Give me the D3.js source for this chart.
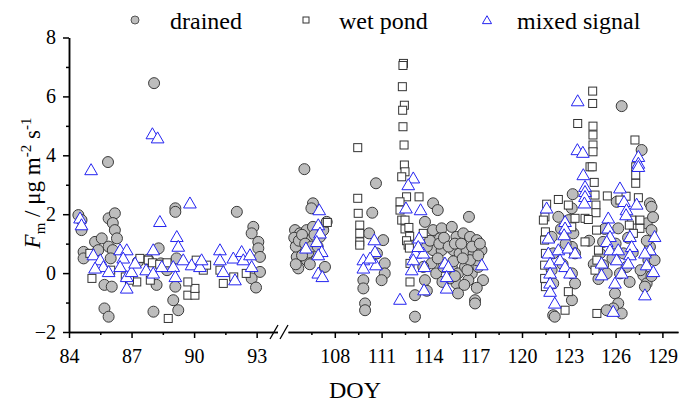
<!DOCTYPE html>
<html>
<head>
<meta charset="utf-8">
<script src="https://cdn.jsdelivr.net/npm/d3@7"></script>
<style>
  body { margin: 0; background: #fff; }
  svg { display: block; font-family: "Liberation Serif", "Times New Roman", serif; }
</style>
</head>
<body>
<div id="chart"></div>
<script>
// tick values (two x segments with a broken axis)
const xTicksA = [84, 87, 90, 93];
const xMinorA = [85.5, 88.5, 91.5];
const xTicksB = [108, 111, 114, 117, 120, 123, 126, 129];
const xMinorB = [106.5, 109.5, 112.5, 115.5, 118.5, 121.5, 124.5, 127.5];
const yTicks = [-2, 0, 2, 4, 6, 8];
const yMinor = [-1, 1, 3, 5, 7];

// [DOY, Fm]
const drained = [
  [84.45, 1.97], [84.6, 1.8], [84.6, 1.46], [84.7, 0.72], [84.7, 0.5], [85.25, 1.06], [85.57, 1.18],
  [85.9, 1.86], [86.2, 2.03], [86.1, 1.7], [86.2, 1.46], [86.3, 1.18], [85.9, 0.9], [86.1, 0.78],
  [85.7, -0.4], [86.05, -0.46], [85.7, -1.2], [85.9, -1.48], [85.87, 3.77], [88.08, 6.45],
  [89.1, 2.2], [89.1, 2.08], [88.3, 0.84], [88.2, -0.4], [88.05, -1.31], [89.1, -0.46], [89.0, -0.92],
  [89.24, -1.26], [87.8, 0.46], [89.16, 0.5], [92.05, 2.08], [92.84, 1.57], [92.76, 1.35], [93.08, 1.06],
  [93.08, 0.84], [93.16, 0.55], [93.16, 0.04], [92.76, -0.18], [92.97, -0.49], [85.4, 0.78], [86.0, 0.5],
  [87.3, 0.38], [88.4, 0.33], [88.7, 0.1],
  [106.05, 3.53], [106.6, 2.37], [106.5, 2.2], [105.45, 1.46], [105.77, 1.35], [106.2, 1.46], [106.6, 1.57],
  [105.56, 1.01], [105.98, 0.89], [106.4, 1.12], [107.05, 1.23], [107.26, 1.46], [105.66, 0.16], [105.56, 0.55],
  [106.2, 0.44], [107.37, 0.21], [106.84, 0.67], [107.48, 1.74], [105.4, 1.2], [105.5, 0.9], [105.7, 1.1],
  [105.9, 1.3], [106.1, 1.0], [106.3, 0.7], [106.5, 0.9], [106.7, 1.3], [106.9, 0.9], [105.9, 0.6],
  [106.4, 0.3], [105.5, 0.3],
  [110.64, 3.05], [110.4, 2.05], [110.2, 1.35], [111.1, 1.12], [109.83, -0.24], [109.83, -0.52], [109.94, -1.03],
  [109.94, -1.26], [111.2, 0.33], [111.2, -0.01], [111.0, -0.24], [110.7, 0.67],
  [113.14, -1.48], [113.14, -0.75], [113.78, -0.24], [114.3, 2.37], [114.6, 2.14], [113.78, 1.74], [114.3, 1.46],
  [114.85, 1.52], [114.74, 1.18], [114.3, 0.78], [114.85, 0.78], [114.2, 0.33], [114.5, -0.01], [114.96, 0.21],
  [113.67, 0.21], [115.5, 1.57], [116.6, 1.91], [115.8, 1.23], [116.24, 1.35], [116.67, 1.23], [117.1, 1.12],
  [115.6, 0.78], [116.0, 0.67], [116.45, 0.78], [116.9, 0.67], [117.4, 0.78], [115.5, 0.21], [115.9, -0.01],
  [116.35, 0.21], [116.78, -0.01], [117.2, 0.21], [117.5, -0.24], [115.8, -0.35], [115.9, -0.69], [116.99, -0.92],
  [116.99, -1.03], [116.56, -0.24], [115.38, -0.18], [117.1, 0.44], [116.67, 0.44], [113.9, 0.9], [114.1, 1.1],
  [114.6, 0.5], [114.7, 1.0], [115.0, 1.2], [115.3, 0.9], [115.6, 0.4], [115.7, 1.0], [116.1, 1.0], [116.2, 0.5],
  [116.5, 0.1], [116.8, 0.9], [117.2, 0.6], [117.3, 1.0], [116.3, -0.4], [117.1, -0.5], [115.7, -0.1],
  [114.9, -0.3], [113.9, -0.6],
  [126.39, 5.67], [127.67, 4.18], [123.25, 2.68], [123.19, 2.2], [126.07, 2.42], [128.2, 2.37], [128.3, 2.25],
  [122.33, 1.91], [123.29, 1.35], [123.2, 0.89], [123.4, 0.67], [123.2, -0.01], [123.4, -0.35], [123.2, -0.92],
  [122.0, -1.43], [122.1, -1.48], [121.9, 1.23], [122.0, 0.67], [121.9, 0.1], [122.0, -0.35], [126.17, 1.52],
  [125.2, 1.06], [125.0, 0.67], [125.2, 0.27], [125.43, -0.01], [125.96, -0.69], [126.17, -1.03], [125.85, -1.2],
  [125.43, -1.26], [126.39, -1.37], [127.99, 1.69], [128.3, 1.46], [128.2, 0.89], [128.1, 0.44], [128.5, 0.44],
  [127.78, -0.07], [127.99, -0.35], [127.88, -0.46], [126.5, 0.67], [126.7, 0.21], [126.28, -0.01],
  [122.5, 1.5], [122.8, 1.0], [122.6, 0.3], [123.0, 1.8], [124.3, 1.1], [125.3, 1.5], [125.8, 0.5], [126.0, 1.0],
  [126.8, 1.2], [127.1, 0.7], [128.4, 1.9], [128.0, 1.1], [128.3, -0.1], [127.6, 0.1], [126.9, -0.3],
  [124.6, 0.3], [124.9, -0.2]
];

const wetPond = [
  [85.0, 0.67], [85.1, -0.18], [87.4, 0.5], [87.8, 0.44], [88.0, 0.35], [88.35, 0.3], [88.7, 0.35],
  [87.25, -0.3], [87.9, -0.24], [88.76, -1.54], [89.7, -0.75], [90.04, -0.75], [90.04, -0.52], [89.7, -0.3],
  [90.44, 0.1], [90.6, 0.27], [90.1, 0.44], [91.4, -0.35], [86.0, 0.1], [86.7, -0.13], [86.9, -0.24],
  [91.24, 0.1], [91.9, -0.13], [92.5, -0.01],
  [109.47, 4.26], [109.47, 2.54], [109.5, 2.03], [109.6, 1.63], [109.6, 1.35], [109.6, 1.06], [109.6, 0.95],
  [107.52, 1.72], [112.4, 7.12], [112.37, 7.05], [112.33, 6.33], [112.46, 5.7], [112.35, 5.53], [112.37, 4.97],
  [112.44, 4.35], [112.46, 3.67], [112.5, 3.44], [112.29, 3.27], [112.6, 2.59], [113.4, 2.59], [112.18, 2.42],
  [112.18, 2.14], [112.29, 1.8], [112.5, 1.8], [112.5, 1.5], [112.75, 1.55], [112.8, 1.25], [112.6, 1.1],
  [112.7, 0.95], [112.78, 0.85], [113.67, 1.35], [112.82, -0.3], [112.82, 0.33],
  [124.53, 6.18], [124.53, 5.76], [123.57, 5.08], [124.55, 4.99], [124.55, 4.69], [124.55, 4.35], [124.55, 4.12],
  [124.36, 3.61], [124.5, 3.61], [124.63, 3.08], [124.68, 2.65], [124.74, 2.31], [124.74, 2.05], [124.04, 1.86],
  [124.25, 1.82], [124.04, 1.06], [127.24, 4.52], [127.29, 3.61], [127.29, 3.33], [127.29, 3.05], [125.47, 2.62],
  [126.67, 2.61], [127.46, 2.56], [122.33, 2.5], [121.58, 2.34], [121.47, 1.91], [121.37, 1.8], [122.97, 2.31],
  [123.4, 1.86], [123.19, 1.57], [121.5, 1.4], [121.45, 1.12], [121.5, 0.67], [121.45, 0.27], [121.45, -0.18],
  [121.5, -0.46], [124.78, 1.46], [124.9, 0.78], [124.8, 0.44], [124.68, 0.1], [124.8, -1.37], [122.76, -1.26],
  [122.97, -0.63], [127.56, 1.8], [127.56, 1.52], [127.03, 1.8], [126.88, 1.63], [126.28, 2.48], [127.14, 1.35]
];

const mixed = [
  [85.06, 3.5], [84.53, 1.86], [84.6, 1.63], [85.17, 0.61], [85.5, 0.44], [85.65, 0.21], [85.25, 0.16],
  [85.9, 0.04], [86.45, 0.78], [86.77, 0.78], [86.6, 0.5], [86.45, 0.21], [86.77, -0.13], [86.77, -0.52],
  [87.0, 0.04], [87.17, 0.33], [88.04, 0.78], [88.36, 1.74], [89.17, 1.23], [89.24, 0.9], [89.8, 2.37],
  [87.7, 0.1], [88.04, -0.01], [88.45, 0.21], [89.0, 0.21], [89.1, -0.13], [89.48, 0.44], [89.88, 0.27],
  [90.28, 0.21], [90.36, 0.44], [91.24, 0.78], [91.24, 0.44], [91.4, 0.04], [91.88, 0.5], [91.96, -0.24],
  [92.28, 0.72], [92.36, 0.44], [92.68, 0.61], [92.76, 0.21], [88.0, 4.72], [88.25, 4.58],
  [107.0, 2.14], [106.94, 1.63], [107.05, 1.35], [106.84, 1.06], [107.16, 0.72], [106.94, 0.61], [106.15, 0.84],
  [106.94, -0.01], [107.2, -0.13], [110.53, 1.12], [110.58, 0.72], [110.64, 0.27], [109.83, 0.44], [109.83, 0.16],
  [110.26, 0.5], [112.18, -0.9], [113.03, 3.22], [112.71, 2.99], [112.56, 2.2], [113.5, 2.14], [113.4, 1.18],
  [113.18, 0.67], [113.67, 0.67], [113.03, 0.44], [113.74, 0.21], [112.93, 0.1], [113.35, 0.89], [113.72, -0.58],
  [115.06, 0.33], [115.28, 0.21], [115.17, -0.13], [115.17, -0.52], [117.42, 0.27],
  [123.57, 5.84], [123.55, 4.18], [123.9, 4.09], [123.93, 3.33], [124.04, 2.93], [124.04, 2.76], [124.04, 2.59],
  [124.0, 2.37], [127.46, 3.95], [127.46, 3.72], [127.46, 3.61], [126.28, 2.88], [126.54, 2.42], [126.7, 2.14],
  [126.67, 1.97], [127.35, 2.33], [121.58, 2.2], [122.76, 1.74], [122.76, 1.52], [122.7, 1.29], [121.69, 1.18],
  [121.69, 0.67], [122.33, 0.78], [122.97, 0.84], [123.4, 0.67], [121.8, 0.33], [122.44, 0.44], [122.76, 0.21],
  [123.08, -0.01], [121.8, -0.01], [121.8, -0.35], [121.8, -0.63], [122.1, -1.03], [125.53, 1.86], [125.53, 1.52],
  [125.64, 1.23], [125.43, 1.06], [125.64, 0.78], [125.1, 0.33], [125.1, -0.07], [126.17, 0.78], [126.07, 0.44],
  [126.39, -0.01], [125.96, -0.35], [125.85, -1.31], [126.92, 1.23], [127.03, 0.89], [126.92, 0.61], [126.8, 0.33],
  [128.5, 1.23], [128.2, 0.78], [127.88, 0.67], [127.99, 0.27], [128.42, 0.04], [127.88, -0.75]
];

const W = 681, H = 403;
const svg = d3.select("#chart").append("svg").attr("width", W).attr("height", H);

const xA = d3.scaleLinear().domain([84, 94]).range([69, 277.5]);
const xB = d3.scaleLinear().domain([105, 130]).range([288, 678]);
const y = d3.scaleLinear().domain([-2, 8]).range([332, 37.5]);
const xPos = d => d < 100 ? xA(d) : xB(d);
const axisY = y(-2);

// axes
function styleAxis(g) {
  g.selectAll("path.domain").attr("stroke", "#000").attr("stroke-width", 1.5);
  g.selectAll(".tick line").attr("stroke", "#000").attr("stroke-width", 1.5);
  g.selectAll(".tick text").attr("font-family", "Liberation Serif, serif").attr("font-size", 20).attr("fill", "#000");
}

[[xA, xTicksA, xMinorA], [xB, xTicksB, xMinorB]].forEach(([sc, maj, min]) => {
  svg.append("g").attr("transform", `translate(0,${axisY})`)
    .call(d3.axisBottom(sc).tickValues(maj).tickSize(6).tickSizeOuter(0).tickPadding(11))
    .call(styleAxis);
  svg.append("g").attr("transform", `translate(0,${axisY})`)
    .call(d3.axisBottom(sc).tickValues(min).tickSize(3).tickSizeOuter(0).tickFormat(""))
    .call(styleAxis);
});

svg.append("g").attr("transform", "translate(69,0)")
  .call(d3.axisLeft(y).tickValues(yTicks).tickSize(6).tickSizeOuter(0).tickPadding(7))
  .call(styleAxis);
svg.append("g").attr("transform", "translate(69,0)")
  .call(d3.axisLeft(y).tickValues(yMinor).tickSize(3).tickSizeOuter(0).tickFormat(""))
  .call(styleAxis);

// break marks
[274, 284].forEach(bx => {
  svg.append("line")
    .attr("x1", bx - 4).attr("y1", axisY + 7)
    .attr("x2", bx + 4).attr("y2", axisY - 7)
    .attr("stroke", "#000").attr("stroke-width", 1.3);
});

// markers
const tri = d3.symbol().type(d3.symbolTriangle).size(70);

svg.append("g").selectAll("circle").data(drained).join("circle")
  .attr("cx", d => xPos(d[0])).attr("cy", d => y(d[1])).attr("r", 5.5)
  .attr("fill", "#bdbdbd").attr("stroke", "#3a3a3a").attr("stroke-width", 1);

svg.append("g").selectAll("rect").data(wetPond).join("rect")
  .attr("x", d => xPos(d[0]) - 4).attr("y", d => y(d[1]) - 4)
  .attr("width", 8).attr("height", 8)
  .attr("fill", "#fff").attr("stroke", "#333").attr("stroke-width", 1);

svg.append("g").selectAll("path").data(mixed).join("path")
  .attr("d", tri)
  .attr("transform", d => `translate(${xPos(d[0])},${y(d[1]) + 1})`)
  .attr("fill", "#fff").attr("stroke", "#2424f0").attr("stroke-width", 1);

// legend
const lg = svg.append("g").attr("font-size", 24);
lg.append("circle").attr("cx", 135).attr("cy", 20).attr("r", 4)
  .attr("fill", "#bdbdbd").attr("stroke", "#555");
lg.append("text").attr("x", 170).attr("y", 29).text("drained");
lg.append("rect").attr("x", 303).attr("y", 17).attr("width", 6).attr("height", 6)
  .attr("fill", "#fff").attr("stroke", "#333");
lg.append("text").attr("x", 339).attr("y", 29).text("wet pond");
lg.append("path").attr("d", d3.symbol().type(d3.symbolTriangle).size(36)).attr("transform", "translate(487,21)")
  .attr("fill", "#fff").attr("stroke", "#2424f0");
lg.append("text").attr("x", 517).attr("y", 29).text("mixed signal");

// axis titles
svg.append("text").attr("x", 355).attr("y", 398).attr("text-anchor", "middle")
  .attr("font-size", 24).text("DOY");

const yl = svg.append("text").attr("text-anchor", "middle").attr("font-size", 23)
  .attr("transform", "translate(40,183) rotate(-90)");
yl.append("tspan").attr("font-style", "italic").text("F");
yl.append("tspan").attr("font-size", 15).attr("dy", 5).text("m");
yl.append("tspan").attr("dy", -5).text(" / μg m");
yl.append("tspan").attr("font-size", 15).attr("dy", -9).text("-2");
yl.append("tspan").attr("dy", 9).text(" s");
yl.append("tspan").attr("font-size", 15).attr("dy", -9).text("-1");
</script>
</body>
</html>
